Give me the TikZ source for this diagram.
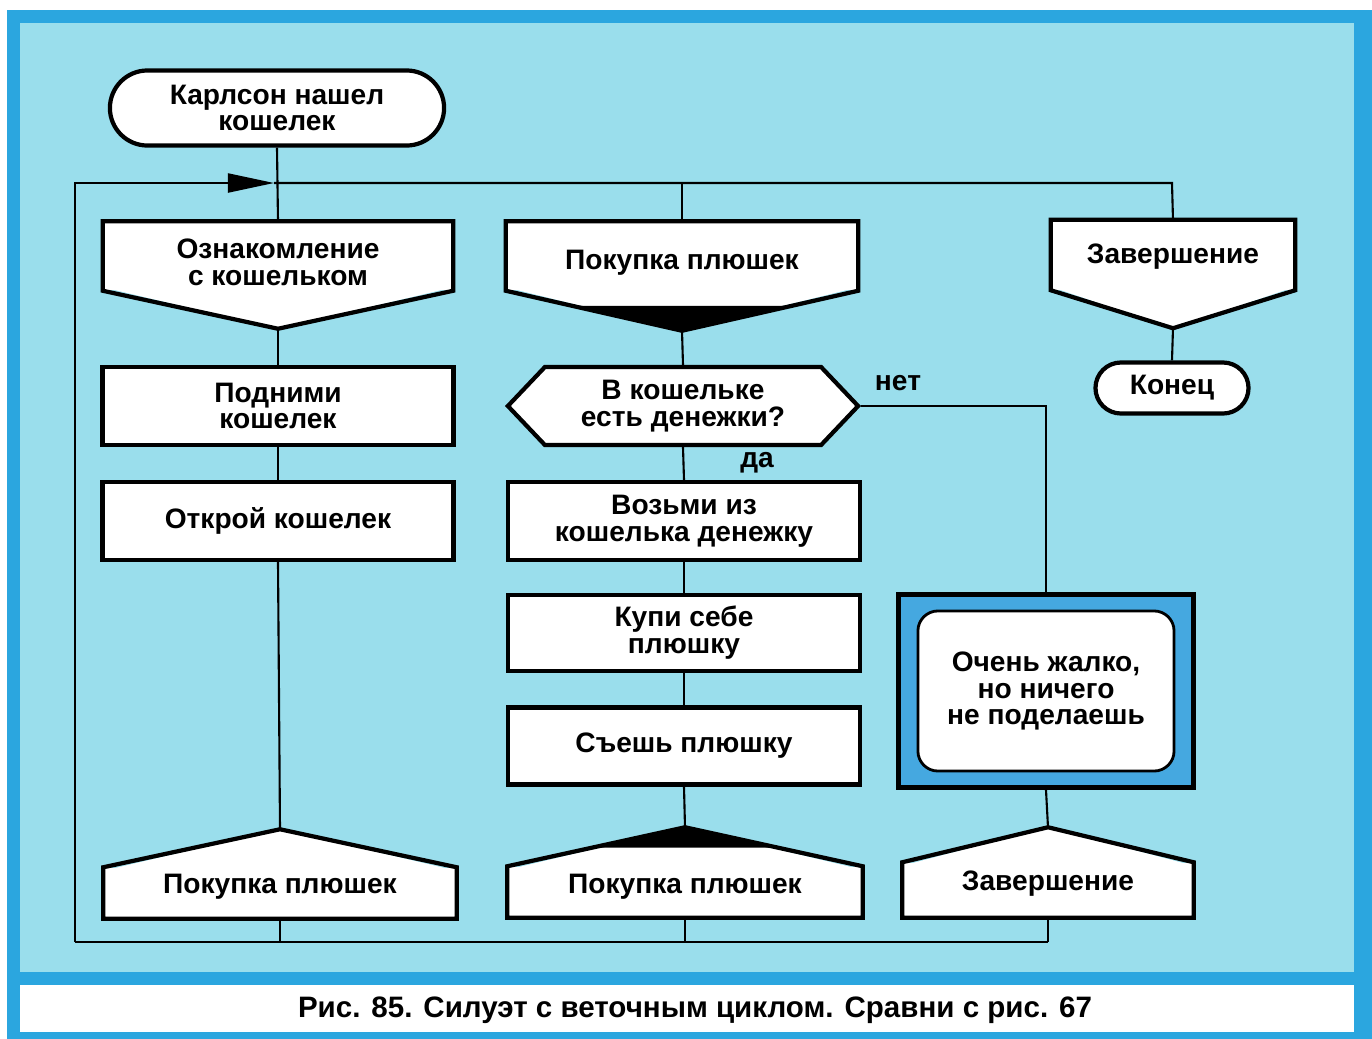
\documentclass[tikz,border=0pt]{standalone}
\usepackage{fontspec}
\setmainfont{Liberation Sans}
\usetikzlibrary{arrows.meta, positioning, calc, shapes.misc, shapes.symbols}
\definecolor{sky}{HTML}{9ADEEC}
\definecolor{frameblue}{HTML}{2BA6DF}
\definecolor{boxblue}{HTML}{45A8E0}

\begin{document}
\begin{tikzpicture}[
    x=0.01cm, y=-0.01cm,
    >={Triangle[length=0.46cm, width=0.19cm]},
    txt/.style={font=\fontsize{8}{7.65}\selectfont\bfseries, align=center, inner sep=1pt},
    box/.style={txt, draw, line width=1.2pt, fill=white},
    term/.style={box, rounded rectangle},
    proc/.style={box, rectangle, minimum width=3.51cm, minimum height=0.78cm},
    ask/.style={box, signal, signal to=east and west, signal pointer angle=93,
        minimum width=3.5cm, minimum height=0.78cm},
    body/.style={fill=white, inner sep=0pt},
    edge/.style={line width=1.2pt, line join=miter},
    link/.style={line width=0.6pt},
]
    \useasboundingbox (0,0) rectangle (1372,1039);
    % page frame and caption strip
    \fill[white] (0,0) rectangle (1372,1039);
    \fill[frameblue] (7,10) rectangle (1372,1039);
    \fill[sky] (20,23) rectangle (1354,972);
    \fill[white] (20,985) rectangle (1354,1032);

    % loop frame corners
    \coordinate (lt) at (75,183);
    \coordinate (lb) at (75,942);
    \coordinate (rt) at (1172,183);
    \coordinate (rb) at (1048,942);
    \coordinate (tick) at (274,183);

    % left column
    \node[term, minimum width=3.41cm, minimum height=0.75cm] (start) at (277,108) {Карлсон нашел\\кошелек};
    \node[body, minimum width=3.49cm, minimum height=0.68cm] (know) at (278,256) {};
    \node[proc] (lift) at (278,406) {Подними\\кошелек};
    \node[proc] (open) at (278,521) {Открой кошелек};
    \node[body, minimum width=3.52cm, minimum height=0.5cm] (buy1b) at (280,893) {};

    % middle column
    \node[body, minimum width=3.51cm, minimum height=0.68cm] (buy2) at (682,256) {};
    \node[ask] (money) at (683,406) {В кошельке\\есть денежки?};
    \node[proc, minimum width=3.52cm] (take) at (684,521) {Возьми из\\кошелька денежку};
    \node[proc, minimum width=3.52cm, minimum height=0.76cm] (purchase) at (684,633) {Купи себе\\плюшку};
    \node[proc, minimum width=3.52cm, minimum height=0.77cm] (eat) at (684,746) {Съешь плюшку};
    \node[body, minimum width=3.54cm, minimum height=0.5cm] (buy2b) at (685,892) {};

    % right columns
    \node[body, minimum width=2.43cm, minimum height=0.69cm] (fin) at (1173,255) {};
    \node[term, minimum width=1.6cm, minimum height=0.51cm] (stop) at (1172,388) {Конец};
    \node[draw, line width=1.4pt, fill=boxblue, minimum width=2.95cm, minimum height=1.93cm] (pity) at (1046,691) {};
    \node[box, rounded corners=0.2cm, line width=0.8pt, minimum width=2.56cm, minimum height=1.6cm] (pitytext) at (pity.center) {Очень жалко,\\но ничего\\не поделаешь};
    \node[body, minimum width=2.9cm, minimum height=0.54cm] (fin2) at (1048,890) {};

    % pentagon headers: pointer below (loop start) or above (loop end)
    \foreach \n/\d in {know/0.38cm, buy2/0.4cm, fin/0.38cm} {
        \coordinate (\n-tip) at ([yshift=-\d]\n.south);
        \fill[white] ([yshift=1pt]\n.south west) -- (\n-tip) -- ([yshift=1pt]\n.south east) -- cycle;
        \draw[edge] (\n.south west) -- (\n.north west) -- (\n.north east) -- (\n.south east) -- (\n-tip) -- cycle;
    }
    \foreach \n/\d in {buy1b/0.38cm, buy2b/0.39cm, fin2/0.35cm} {
        \coordinate (\n-tip) at ([yshift=\d]\n.north);
        \fill[white] ([yshift=-1pt]\n.north west) -- (\n-tip) -- ([yshift=-1pt]\n.north east) -- cycle;
        \draw[edge] (\n.north west) -- (\n.south west) -- (\n.south east) -- (\n.north east) -- (\n-tip) -- cycle;
    }
    \fill ($(buy2-tip)!0.62!(buy2.south west)$) -- (buy2-tip) -- ($(buy2-tip)!0.62!(buy2.south east)$) -- cycle;
    \fill ($(buy2b-tip)!0.52!(buy2b.north west)$) -- (buy2b-tip) -- ($(buy2b-tip)!0.52!(buy2b.north east)$) -- cycle;

    % header captions
    \node[txt] (know-text) at ([yshift=-0.06cm]know.center) {Ознакомление\\с кошельком};
    \node[txt] (buy2-text) at ([yshift=-0.07cm]buy2.center) {Покупка плюшек};
    \node[txt] (fin-text) at ([yshift=-0.02cm]fin.center) {Завершение};
    \node[txt] (buy1b-text) at ([yshift=0.06cm]buy1b.center) {Покупка плюшек};
    \node[txt] (buy2b-text) at ([yshift=0.05cm]buy2b.center) {Покупка плюшек};
    \node[txt] (fin2-text) at ([yshift=0.06cm]fin2.center) {Завершение};

    \node[txt] (yes) at (757,463) {да};
    \node[txt] (no) at (898,383) {нет};

    % loop: back edge with the arrow, top and bottom rails
    \draw[link, ->] (lb) -- (lt) -- (tick);
    \draw[link] (tick) -- (rt) -- (fin.north);
    \draw[link] (lb) -- (rb);

    \draw[link] (start.south) -- (know.north);
    \draw[link] (know-tip) -- (lift.north);
    \draw[link] (lift.south) -- (open.north);
    \draw[link] (open.south) -- (buy1b-tip);
    \draw[link] (buy1b.south) -- (buy1b.south |- lb);

    \draw[link] (buy2.north |- rt) -- (buy2.north);
    \draw[link] (buy2-tip) -- (money.north);
    \draw[link] (money.south) -- (take.north);
    \draw[link] (take.south) -- (purchase.north);
    \draw[link] (purchase.south) -- (eat.north);
    \draw[link] (eat.south) -- (buy2b-tip);
    \draw[link] (buy2b.south) -- (buy2b.south |- lb);

    \draw[link] (money.east) -| (pity.north);
    \draw[link] (pity.south) -- (fin2-tip);
    \draw[link] (fin2.south) -- (rb);
    \draw[link] (fin-tip) -- (stop.north);

    \node[font=\fontsize{8.4}{9}\selectfont\bfseries] (caption) at (695,1010) {Рис. 85. Силуэт с веточным циклом. Сравни с рис. 67};
\end{tikzpicture}
\end{document}
